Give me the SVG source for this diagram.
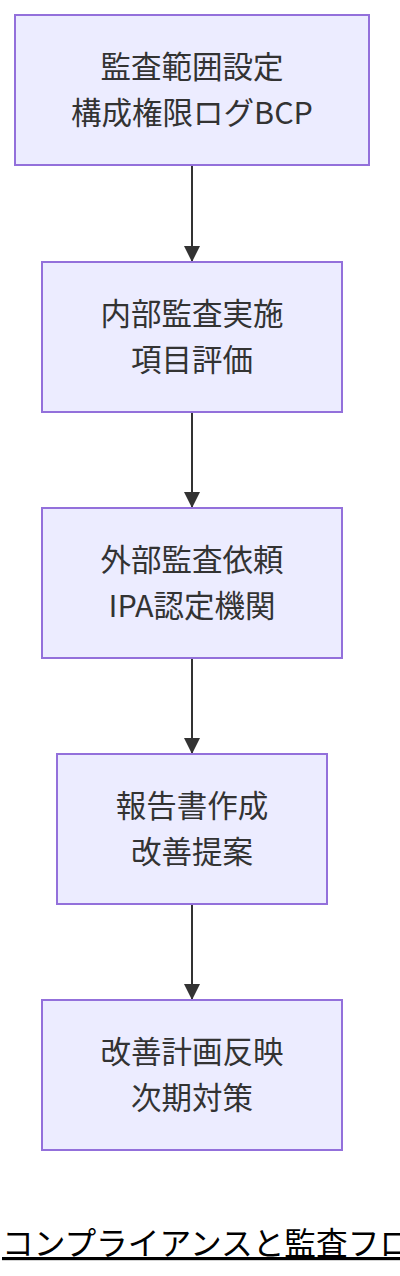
<svg xmlns="http://www.w3.org/2000/svg" width="400" height="1276" viewBox="0 0 400 1276">
<style>
.node rect{fill:#ECECFF;stroke:#9370DB;stroke-width:2}
.node text{font-family:"Noto Sans CJK JP","Noto Sans",sans-serif;font-size:30.5px;fill:#333;text-anchor:middle;dominant-baseline:central}
.edge{stroke:#333;stroke-width:2;fill:none}
.title{font-family:"Noto Sans CJK JP","Noto Sans",sans-serif;font-size:31.7px;fill:#000;text-decoration:underline}
</style>
<defs>
<marker id="arrow" viewBox="0 0 16 16" refX="16" refY="8" markerWidth="16" markerHeight="16" markerUnits="userSpaceOnUse" orient="auto">
<path d="M0,0 L16,8 L0,16 Z" fill="#333"/>
</marker>
</defs>
<rect width="400" height="1276" fill="#fff"/>
<g id="connectors">
<line class="edge" x1="192" y1="165" x2="192" y2="262" marker-end="url(#arrow)"/>
<line class="edge" x1="192" y1="412" x2="192" y2="508" marker-end="url(#arrow)"/>
<line class="edge" x1="192" y1="658" x2="192" y2="754" marker-end="url(#arrow)"/>
<line class="edge" x1="192" y1="904" x2="192" y2="1000" marker-end="url(#arrow)"/>
</g>
<g id="n1" class="node">
<rect x="15" y="15" width="354" height="150"/>
<text x="192" y="65">監査範囲設定</text>
<text x="192" y="111">構成権限ログBCP</text>
</g>
<g id="n2" class="node">
<rect x="42" y="262" width="300" height="150"/>
<text x="192" y="312">内部監査実施</text>
<text x="192" y="358">項目評価</text>
</g>
<g id="n3" class="node">
<rect x="42" y="508" width="300" height="150"/>
<text x="192" y="558">外部監査依頼</text>
<text x="192" y="604">IPA認定機関</text>
</g>
<g id="n4" class="node">
<rect x="57" y="754" width="270" height="150"/>
<text x="192" y="804">報告書作成</text>
<text x="192" y="850">改善提案</text>
</g>
<g id="n5" class="node">
<rect x="42" y="1000" width="300" height="150"/>
<text x="192" y="1050">改善計画反映</text>
<text x="192" y="1096">次期対策</text>
</g>
<text class="title" x="2" y="1255">コンプライアンスと監査フロー</text>
</svg>
